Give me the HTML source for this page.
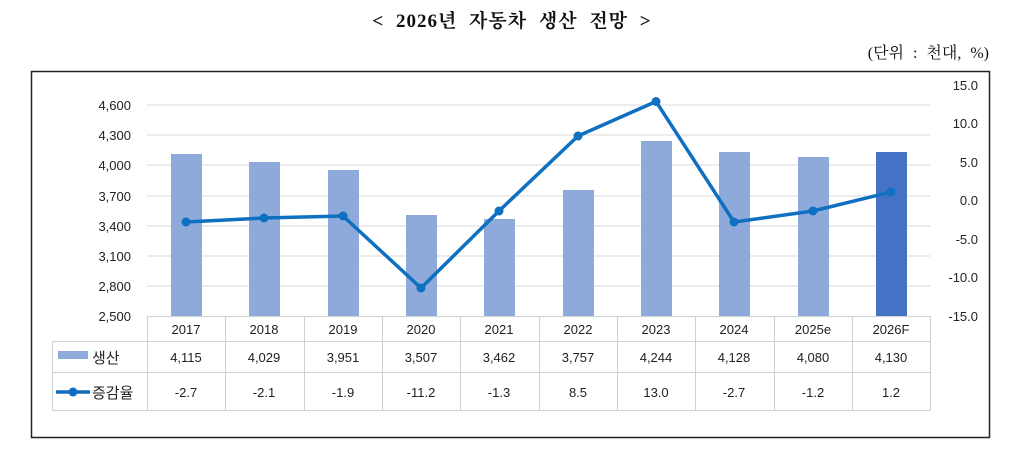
<!DOCTYPE html>
<html><head><meta charset="utf-8"><style>
body{margin:0;background:#fff;width:1024px;height:466px;overflow:hidden}
svg{display:block}
.t{font-family:"Liberation Sans","Noto Sans CJK KR",sans-serif;font-size:13px;fill:#222}
</style></head><body>
<svg width="1024" height="466" xmlns="http://www.w3.org/2000/svg">
<text x="512" y="27" text-anchor="middle" font-family="Liberation Serif,'Noto Serif CJK SC',serif" font-weight="bold" font-size="19" fill="#111" letter-spacing="1" word-spacing="6" xml:space="preserve">&lt; 2026년 자동차 생산 전망 &gt;</text>
<text x="989" y="58" text-anchor="end" font-family="Liberation Serif,'Noto Serif CJK SC',serif" font-size="16" fill="#111" word-spacing="5">(단위 : 천대, %)</text>
<rect x="31.5" y="71.5" width="958" height="366" fill="none" stroke="#222" stroke-width="1.5"/>
<g stroke="#d9d9d9" stroke-width="1">
<line x1="147" x2="930" y1="105" y2="105"/><line x1="147" x2="930" y1="135" y2="135"/><line x1="147" x2="930" y1="165" y2="165"/><line x1="147" x2="930" y1="196" y2="196"/><line x1="147" x2="930" y1="226" y2="226"/><line x1="147" x2="930" y1="256" y2="256"/><line x1="147" x2="930" y1="286" y2="286"/>
</g>
<g class="t" text-anchor="end">
<text x="131" y="110">4,600</text><text x="131" y="140">4,300</text><text x="131" y="170">4,000</text><text x="131" y="201">3,700</text><text x="131" y="231">3,400</text><text x="131" y="261">3,100</text><text x="131" y="291">2,800</text><text x="131" y="321">2,500</text>
</g>
<g class="t" text-anchor="end">
<text x="978" y="90">15.0</text><text x="978" y="128">10.0</text><text x="978" y="167">5.0</text><text x="978" y="205">0.0</text><text x="978" y="244">-5.0</text><text x="978" y="282">-10.0</text><text x="978" y="321">-15.0</text>
</g>
<g fill="#8eaadb">
<rect x="171" y="154" width="31" height="162"/>
<rect x="249" y="162" width="31" height="154"/>
<rect x="328" y="170" width="31" height="146"/>
<rect x="406" y="215" width="31" height="101"/>
<rect x="484" y="219" width="31" height="97"/>
<rect x="563" y="190" width="31" height="126"/>
<rect x="641" y="141" width="31" height="175"/>
<rect x="719" y="152" width="31" height="164"/>
<rect x="798" y="157" width="31" height="159"/>
<rect x="876" y="152" width="31" height="164" fill="#4472c4"/>
</g>
<polyline fill="none" stroke="#0f6fc0" stroke-width="3.5" stroke-linejoin="round" points="186,222 264,218 343,216 421,288 499,211 578,136 656,101.5 734,222 813,211 891,192"/>
<g fill="#0f6fc0">
<circle cx="186" cy="222" r="4.5"/><circle cx="264" cy="218" r="4.5"/><circle cx="343" cy="216" r="4.5"/><circle cx="421" cy="288" r="4.5"/><circle cx="499" cy="211" r="4.5"/><circle cx="578" cy="136" r="4.5"/><circle cx="656" cy="101.5" r="4.5"/><circle cx="734" cy="222" r="4.5"/><circle cx="813" cy="211" r="4.5"/><circle cx="891" cy="192" r="4.5"/>
</g>
<g stroke="#d0d0d0" stroke-width="1" fill="none">
<line x1="147" x2="930" y1="316.5" y2="316.5"/>
<line x1="52" x2="930" y1="341.5" y2="341.5"/>
<line x1="52" x2="930" y1="372.5" y2="372.5"/>
<line x1="52" x2="930" y1="410.5" y2="410.5"/>
<line x1="52.5" x2="52.5" y1="341" y2="411"/>
<line x1="147.5" x2="147.5" y1="316" y2="411"/><line x1="225.5" x2="225.5" y1="316" y2="411"/><line x1="304.5" x2="304.5" y1="316" y2="411"/><line x1="382.5" x2="382.5" y1="316" y2="411"/><line x1="460.5" x2="460.5" y1="316" y2="411"/><line x1="539.5" x2="539.5" y1="316" y2="411"/><line x1="617.5" x2="617.5" y1="316" y2="411"/><line x1="695.5" x2="695.5" y1="316" y2="411"/><line x1="774.5" x2="774.5" y1="316" y2="411"/><line x1="852.5" x2="852.5" y1="316" y2="411"/><line x1="930.5" x2="930.5" y1="316" y2="411"/>
</g>
<rect x="58" y="351" width="30" height="8" fill="#8eaadb"/>
<text x="92" y="363" font-family="Liberation Sans,'Noto Sans CJK KR',sans-serif" font-size="15" fill="#222">생산</text>
<line x1="56" x2="90" y1="392" y2="392" stroke="#0f6fc0" stroke-width="3.5"/>
<circle cx="73" cy="392" r="4.5" fill="#0f6fc0"/>
<text x="92" y="398" font-family="Liberation Sans,'Noto Sans CJK KR',sans-serif" font-size="15" fill="#222">증감율</text>
<g class="t" text-anchor="middle">
<text x="186" y="334">2017</text><text x="264" y="334">2018</text><text x="343" y="334">2019</text><text x="421" y="334">2020</text><text x="499" y="334">2021</text><text x="578" y="334">2022</text><text x="656" y="334">2023</text><text x="734" y="334">2024</text><text x="813" y="334">2025e</text><text x="891" y="334">2026F</text>
<text x="186" y="362">4,115</text><text x="264" y="362">4,029</text><text x="343" y="362">3,951</text><text x="421" y="362">3,507</text><text x="499" y="362">3,462</text><text x="578" y="362">3,757</text><text x="656" y="362">4,244</text><text x="734" y="362">4,128</text><text x="813" y="362">4,080</text><text x="891" y="362">4,130</text>
<text x="186" y="397">-2.7</text><text x="264" y="397">-2.1</text><text x="343" y="397">-1.9</text><text x="421" y="397">-11.2</text><text x="499" y="397">-1.3</text><text x="578" y="397">8.5</text><text x="656" y="397">13.0</text><text x="734" y="397">-2.7</text><text x="813" y="397">-1.2</text><text x="891" y="397">1.2</text>
</g>
</svg>
</body></html>
